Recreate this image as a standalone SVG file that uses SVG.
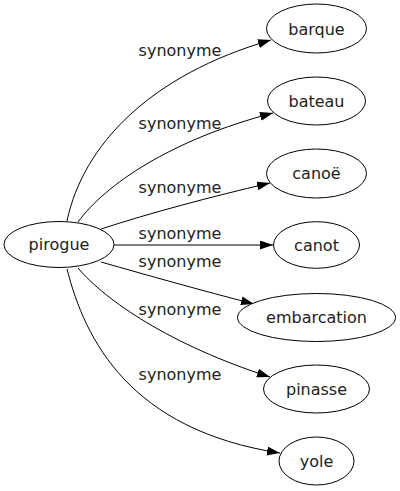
<svg xmlns="http://www.w3.org/2000/svg" width="400" height="491" viewBox="0 0 400 491">
<style>
.node ellipse{fill:#fff;stroke:#000;stroke-width:1}
text{font-family:"DejaVu Sans","Liberation Sans",sans-serif;font-size:16px;fill:#222;text-anchor:middle}
.edges path{fill:none;stroke:#000;stroke-width:1;marker-end:url(#arr)}
</style>
<defs>
<marker id="arr" markerUnits="userSpaceOnUse" markerWidth="14" markerHeight="10" refX="13" refY="4.5" orient="auto">
<path d="M0,0 L13,4.5 L0,9 z" fill="#000"/>
</marker>
</defs>
<rect width="400" height="491" fill="#fff"/>
<g class="edges">
<path d="M67,221 C83,145 150,75 271,40"/>
<path d="M78,222 C105,185 170,140 273,113"/>
<path d="M101,229 C150,213 210,197 270,183"/>
<path d="M114,245 L273,245"/>
<path d="M101,262 C150,276 200,290 254,304"/>
<path d="M78,268 C105,300 170,345 270,377"/>
<path d="M67,269 C85,340 130,430 280,453"/>
<text x="180" y="56">synonyme</text>
<text x="180" y="129">synonyme</text>
<text x="180" y="193">synonyme</text>
<text x="180" y="239">synonyme</text>
<text x="180" y="267">synonyme</text>
<text x="180" y="315">synonyme</text>
<text x="180" y="380">synonyme</text>
</g>
<g id="pirogue" class="node"><ellipse cx="59" cy="244.5" rx="55" ry="23"/><text x="59" y="250">pirogue</text></g>
<g id="barque" class="node"><ellipse cx="316.5" cy="28.5" rx="50" ry="24.5"/><text x="316.5" y="35">barque</text></g>
<g id="bateau" class="node"><ellipse cx="316.5" cy="101" rx="49" ry="24"/><text x="316.5" y="107">bateau</text></g>
<g id="canoe" class="node"><ellipse cx="316.5" cy="173.5" rx="50" ry="24.5"/><text x="316.5" y="179">canoë</text></g>
<g id="canot" class="node"><ellipse cx="316.5" cy="245" rx="43" ry="23.3"/><text x="316.5" y="250.5">canot</text></g>
<g id="embarcation" class="node"><ellipse cx="316.5" cy="317.5" rx="79" ry="24"/><text x="316.5" y="323">embarcation</text></g>
<g id="pinasse" class="node"><ellipse cx="316.5" cy="389" rx="53" ry="24"/><text x="316.5" y="395">pinasse</text></g>
<g id="yole" class="node"><ellipse cx="316.5" cy="461" rx="37.5" ry="24"/><text x="316.5" y="466.5">yole</text></g>
</svg>
